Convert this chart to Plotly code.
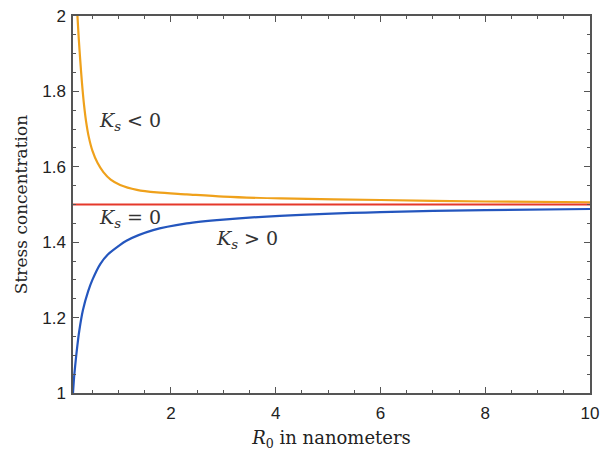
import plotly.graph_objects as go

# Data
x_neg = [0.215, 0.24, 0.267, 0.3, 0.34, 0.38, 0.43, 0.5, 0.6, 0.71, 0.85, 1.03, 1.35, 1.73, 2.3, 3.0, 4.1, 6.0, 8.0, 10.0]
y_neg = [2.0, 1.94, 1.885, 1.825, 1.765, 1.72, 1.68, 1.643, 1.61, 1.586, 1.566, 1.552, 1.539, 1.532, 1.527, 1.521, 1.516, 1.512, 1.508, 1.506]

x_zero = [0.13, 10.0]
y_zero = [1.5, 1.5]

x_pos = [0.13, 0.15, 0.17, 0.2, 0.25, 0.32, 0.42, 0.5, 0.65, 0.8, 1.0, 1.15, 1.66, 2.3, 3.0, 4.08, 6.0, 8.0, 10.0]
y_pos = [1.0, 1.04, 1.07, 1.11, 1.165, 1.22, 1.27, 1.30, 1.342, 1.368, 1.39, 1.404, 1.432, 1.45, 1.46, 1.47, 1.48, 1.485, 1.488]

labels = ["<i>K</i><sub><i>s</i></sub> < 0", "<i>K</i><sub><i>s</i></sub> = 0", "<i>K</i><sub><i>s</i></sub> > 0"]
label_x = [1.22, 1.22, 3.45]
label_y = [1.72, 1.464, 1.406]

fig = go.Figure()
fig.add_trace(go.Scatter(x=x_neg, y=y_neg, mode="lines",
                         line=dict(color="#EFA11B", width=2.2, shape="spline", smoothing=0.8), showlegend=False))
fig.add_trace(go.Scatter(x=x_pos, y=y_pos, mode="lines",
                         line=dict(color="#2456BE", width=2.2, shape="spline", smoothing=0.8), showlegend=False))
fig.add_trace(go.Scatter(x=x_zero, y=y_zero, mode="lines",
                         line=dict(color="#E5392B", width=2.2), showlegend=False))

for t, ax_, ay_ in zip(labels, label_x, label_y):
    fig.add_annotation(x=ax_, y=ay_, text=t, showarrow=False,
                       font=dict(family="DejaVu Serif", size=19, color="#333333"))

axis_common = dict(showline=True, linecolor="#555555", linewidth=1.5, mirror="ticks",
                   ticks="inside", ticklen=6, tickwidth=1.2, tickcolor="#555555",
                   showgrid=False, zeroline=False, automargin=False,
                   ticklabeloverflow="allow",
                   tickfont=dict(family="Liberation Sans", size=17, color="#222222"))

fig.update_xaxes(range=[0.13, 10], dtick=2, tick0=0, ticklabelstandoff=4,
                 minor=dict(dtick=0.5, ticklen=3.5, tickcolor="#555555", ticks="inside", tickwidth=1),
                 title=dict(text="<i>R</i><sub>0</sub> in nanometers", standoff=11,
                            font=dict(family="DejaVu Serif", size=18, color="#222222")),
                 **axis_common)
fig.update_yaxes(range=[1, 2], dtick=0.2, tick0=1, ticklabelstandoff=2,
                 minor=dict(dtick=0.05, ticklen=3.5, tickcolor="#555555", ticks="inside", tickwidth=1),
                 title=dict(text="Stress concentration", standoff=10,
                            font=dict(family="DejaVu Serif", size=17, color="#222222")),
                 **axis_common)

fig.update_layout(width=601, height=451, margin=dict(l=73, r=11, t=16, b=58),
                  plot_bgcolor="white", paper_bgcolor="white")

fig.write_html("out.html", config={"displayModeBar": False},
               post_script="document.body.style.margin='0';")
